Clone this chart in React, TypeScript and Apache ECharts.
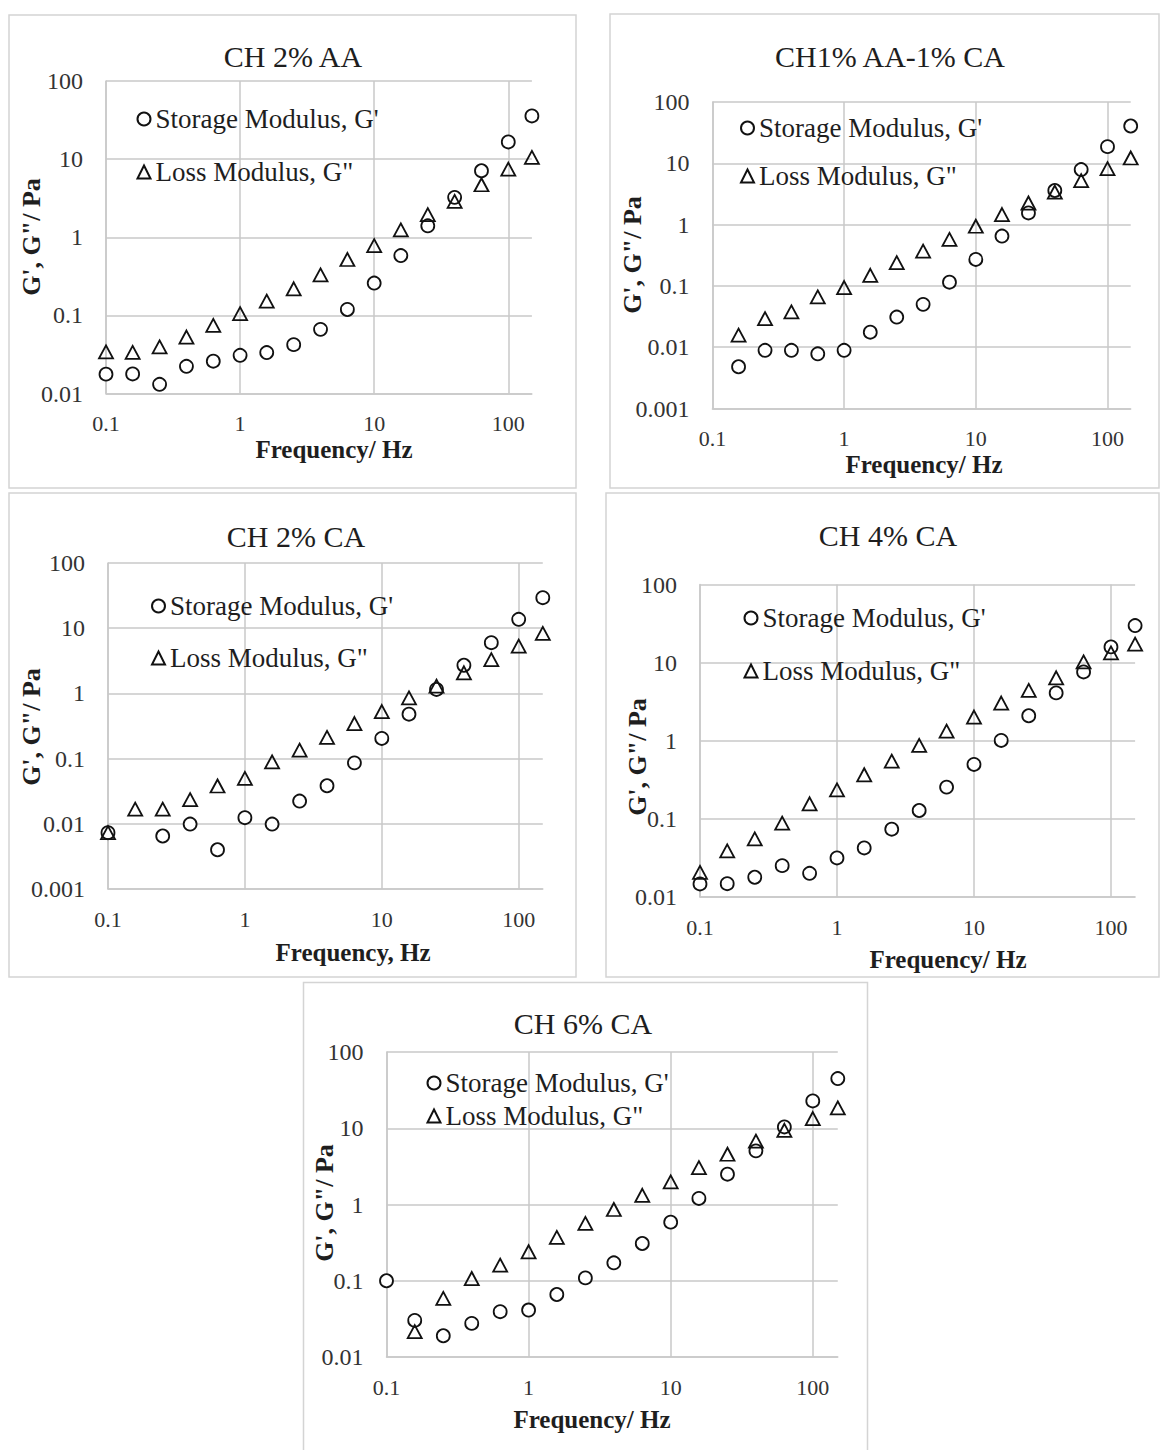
import React, { useEffect, useRef } from "react";
import * as echarts from "echarts";

// ---------- data ----------
const FREQ = [0.1, 0.158, 0.251, 0.398, 0.631, 1, 1.58, 2.51, 3.98, 6.31, 10, 15.8, 25.1, 39.8, 63.1, 100, 150];

const TITLES = ["CH 2% AA", "CH1% AA-1% CA", "CH 2% CA", "CH 4% CA", "CH 6% CA"];
const X_TITLES = ["Frequency/ Hz", "Frequency/ Hz", "Frequency, Hz", "Frequency/ Hz", "Frequency/ Hz"];
const Y_TITLE = "G', G\"/ Pa";
const STORAGE = "Storage Modulus, G'";
const LOSS = 'Loss Modulus, G"';
const Y_MINS = [0.01, 0.001, 0.001, 0.01, 0.01];
const Y_MAX = 100;
const X_MIN = 0.1;
const X_MAX = 150;

// CH 2% AA
const AA2_STORAGE = [0.0177, 0.0178, 0.0131, 0.0223, 0.0259, 0.0308, 0.0334, 0.0422, 0.0662, 0.119, 0.259, 0.583, 1.4, 3.24, 7.1, 16.6, 35.7];
const AA2_LOSS = [0.034, 0.0335, 0.0394, 0.0528, 0.0745, 0.105, 0.152, 0.219, 0.33, 0.519, 0.78, 1.24, 1.95, 2.88, 4.7, 7.45, 10.5];
// CH1% AA-1% CA
const AA1CA1_STORAGE = [null, 0.0048, 0.0089, 0.0089, 0.0078, 0.0089, 0.0176, 0.031, 0.05, 0.115, 0.27, 0.65, 1.55, 3.6, 7.9, 18.7, 40.6];
const AA1CA1_LOSS = [null, 0.0157, 0.0293, 0.0377, 0.066, 0.094, 0.149, 0.24, 0.37, 0.575, 0.94, 1.46, 2.25, 3.4, 5.2, 8.2, 12.2];
// CH 2% CA
const CA2_STORAGE = [0.0073, null, 0.0065, 0.0099, 0.004, 0.0124, 0.0099, 0.0223, 0.0383, 0.086, 0.204, 0.48, 1.15, 2.7, 6.0, 13.7, 29.4];
const CA2_LOSS = [0.0073, 0.0168, 0.0168, 0.0234, 0.038, 0.0497, 0.089, 0.135, 0.211, 0.345, 0.527, 0.855, 1.29, 2.07, 3.3, 5.3, 8.3];
// CH 4% CA
const CA4_STORAGE = [0.0147, 0.0148, 0.0179, 0.0252, 0.0201, 0.0316, 0.0425, 0.0738, 0.128, 0.255, 0.498, 1.01, 2.09, 4.1, 7.6, 15.9, 29.8];
const CA4_LOSS = [0.0207, 0.039, 0.0555, 0.088, 0.156, 0.235, 0.367, 0.548, 0.87, 1.33, 2.01, 3.04, 4.4, 6.4, 10.2, 13.3, 17.2];
// CH 6% CA
const CA6_STORAGE = [0.1, 0.0302, 0.019, 0.0276, 0.0393, 0.0413, 0.066, 0.109, 0.172, 0.308, 0.587, 1.2, 2.5, 5.05, 10.4, 22.8, 44.8];
const CA6_LOSS = [null, 0.0215, 0.0587, 0.107, 0.16, 0.24, 0.37, 0.564, 0.86, 1.32, 1.98, 3.05, 4.56, 6.76, 9.4, 13.4, 18.5];

const STORAGE_SETS = [AA2_STORAGE, AA1CA1_STORAGE, CA2_STORAGE, CA4_STORAGE, CA6_STORAGE];
const LOSS_SETS = [AA2_LOSS, AA1CA1_LOSS, CA2_LOSS, CA4_LOSS, CA6_LOSS];

// ---------- layout ----------
const LAYOUT = [
  { box: [9, 15, 567, 473], grid: [106, 81, 425.9, 312.5], title: [293, 56], xName: [334, 449], yName: [31, 237], legend: [136.5, 105, 25] },
  { box: [610, 14, 549, 474], grid: [712.4, 102, 418.3, 306.5], title: [890, 56], xName: [924, 464], yName: [632, 255], legend: [740, 114, 20] },
  { box: [9, 493, 567, 484], grid: [108, 563, 434.8, 326], title: [296, 536], xName: [353, 952], yName: [31.5, 727], legend: [151, 592, 24] },
  { box: [606, 493, 553, 484], grid: [700, 584.5, 435.1, 312.5], title: [888, 535], xName: [948, 959], yName: [637.5, 757], legend: [743.5, 604, 25] },
  { box: [303.5, 982.5, 564, 470], grid: [386.5, 1052, 451.3, 305], title: [583, 1023], xName: [592, 1419], yName: [324.5, 1203], legend: [426.5, 1069, 5] },
];

const SERIF = "Liberation Serif";
const GRID_COLOR = "#c9c9c9";
const TEXT_COLOR = "#1e1e1e";

function logLabel(v: number): string {
  const l = Math.log10(v);
  const e = Math.round(l);
  if (Math.abs(l - e) > 1e-6) return "";
  return String(parseFloat(Math.pow(10, e).toPrecision(1)));
}

function buildOption() {
  const grid: any[] = [];
  const xAxis: any[] = [];
  const yAxis: any[] = [];
  const series: any[] = [];
  const legend: any[] = [];
  const graphic: any[] = [];

  LAYOUT.forEach((p, i) => {
    graphic.push({
      type: "rect",
      silent: true,
      z: -10,
      shape: { x: p.box[0], y: p.box[1], width: p.box[2], height: p.box[3] },
      style: { fill: "#fff", stroke: "#d4d4d4", lineWidth: 1.5 },
    });
    graphic.push({
      type: "text",
      silent: true,
      x: p.title[0],
      y: p.title[1],
      style: { text: TITLES[i], align: "center", verticalAlign: "middle", font: `30px "${SERIF}"`, fill: TEXT_COLOR },
    });
    graphic.push({
      type: "text",
      silent: true,
      x: p.xName[0],
      y: p.xName[1],
      style: {
        text: X_TITLES[i],
        align: "center",
        verticalAlign: "middle",
        font: `bold 25px "${SERIF}"`,
        fill: TEXT_COLOR,
      },
    });
    graphic.push({
      type: "text",
      silent: true,
      x: p.yName[0],
      y: p.yName[1],
      rotation: Math.PI / 2,
      style: { text: Y_TITLE, align: "center", verticalAlign: "middle", font: `bold 26px "${SERIF}"`, fill: TEXT_COLOR },
    });

    grid.push({ left: p.grid[0], top: p.grid[1], width: p.grid[2], height: p.grid[3], containLabel: false });

    xAxis.push({
      type: "log",
      logBase: 10,
      gridIndex: i,
      min: X_MIN,
      max: X_MAX,
      axisLine: { show: true, lineStyle: { color: GRID_COLOR, width: 1.5 } },
      axisTick: { show: false },
      axisLabel: {
        formatter: logLabel,
        showMaxLabel: false,
        margin: 19,
        fontFamily: SERIF,
        fontSize: 22,
        color: "#333",
      },
      splitLine: { show: true, showMaxLine: false, lineStyle: { color: GRID_COLOR, width: 1.5 } },
    });
    yAxis.push({
      type: "log",
      logBase: 10,
      gridIndex: i,
      min: Y_MINS[i],
      max: Y_MAX,
      axisLine: { show: true, lineStyle: { color: GRID_COLOR, width: 1.5 } },
      axisTick: { show: false },
      axisLabel: {
        formatter: logLabel,
        margin: 23,
        fontFamily: SERIF,
        fontSize: 24,
        color: "#333",
      },
      splitLine: { show: true, lineStyle: { color: GRID_COLOR, width: 1.5 } },
    });

    const toPts = (arr: (number | null)[]) =>
      FREQ.map((f, k) => [f, arr[k]]).filter((d) => d[1] !== null && d[1] !== undefined);

    series.push({
      type: "scatter",
      name: STORAGE,
      xAxisIndex: i,
      yAxisIndex: i,
      symbol: "circle",
      symbolSize: 13,
      itemStyle: { color: "#ffffff", borderColor: "#111", borderWidth: 1.8, opacity: 1 },
      data: toPts(STORAGE_SETS[i]),
      z: 3,
    });
    series.push({
      type: "scatter",
      name: LOSS,
      xAxisIndex: i,
      yAxisIndex: i,
      symbol: "triangle",
      symbolSize: [14, 13],
      itemStyle: { color: "rgba(255,255,255,0)", borderColor: "#111", borderWidth: 1.8, opacity: 1 },
      data: toPts(LOSS_SETS[i]),
      z: 4,
    });

    legend.push({
      left: p.legend[0],
      top: p.legend[1],
      orient: "vertical",
      itemGap: p.legend[2],
      itemWidth: 13,
      itemHeight: 13,
      padding: 0,
      selectedMode: false,
      textStyle: { fontFamily: SERIF, fontSize: 27, color: TEXT_COLOR, lineHeight: 28 },
      data: [STORAGE, LOSS],
    });
  });

  return {
    animation: false,
    backgroundColor: "#ffffff",
    grid,
    xAxis,
    yAxis,
    series,
    legend,
    graphic,
  };
}

export default function App() {
  const ref = useRef<HTMLDivElement | null>(null);
  useEffect(() => {
    if (!ref.current) return;
    const chart = echarts.init(ref.current, null, { renderer: "svg" });
    chart.setOption(buildOption() as any);
    return () => chart.dispose();
  }, []);
  return (
    <div
      ref={ref}
      style={{ position: "absolute", left: 0, top: 0, width: 1160, height: 1450, background: "#fff" }}
    />
  );
}
